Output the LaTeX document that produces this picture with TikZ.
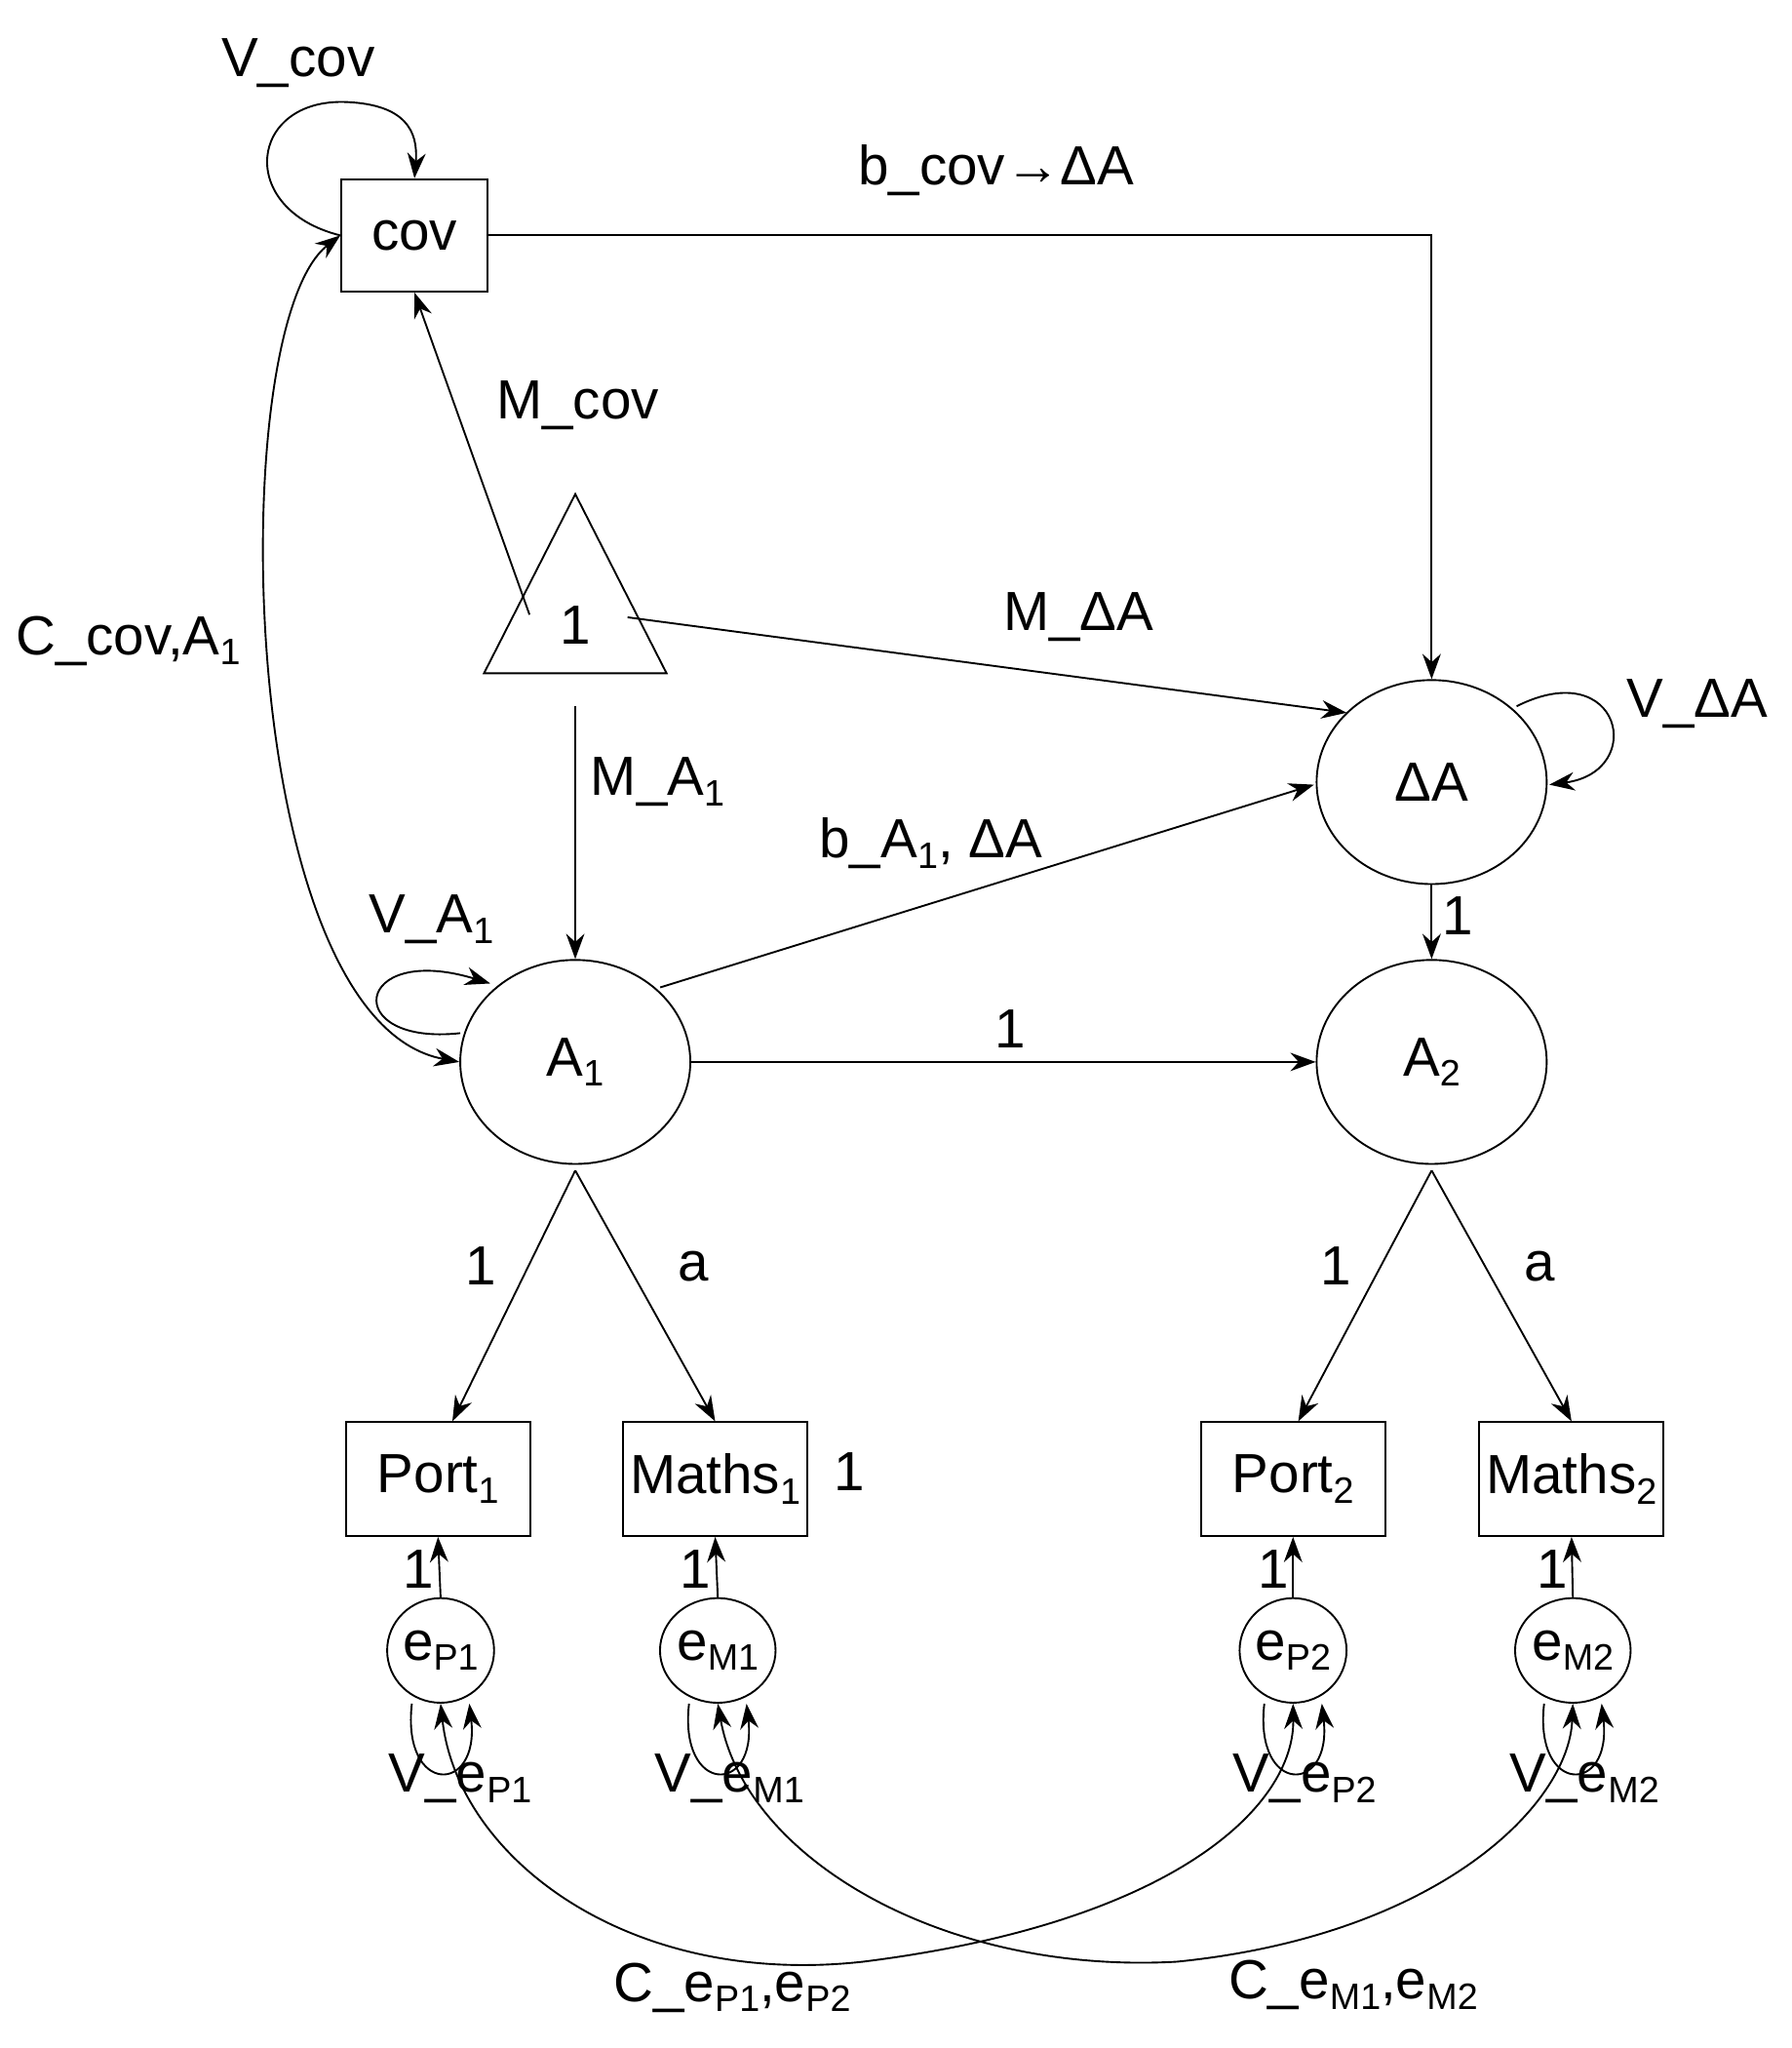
\documentclass[tikz,border=0pt]{standalone}
\usepackage{fontspec}
\setmainfont{Liberation Sans}
\usetikzlibrary{shapes.geometric,arrows.meta}
\newcommand{\sbx}[1]{\raisebox{-0.35ex}{\fontsize{16}{18}\selectfont #1}}
\begin{document}
\begin{tikzpicture}[x=0.02cm,y=-0.02cm,
  every node/.style={font=\fontsize{24}{28}\selectfont},
  box/.style={draw,thick,minimum width=2.82cm,minimum height=1.74cm,inner sep=0pt},
  lat/.style={draw,thick,ellipse,minimum width=3.52cm,minimum height=3.12cm,inner sep=0pt},
  err/.style={draw,thick,ellipse,minimum width=1.48cm,minimum height=1.6cm,inner sep=0pt},
  lab/.style={inner sep=1pt},
  arr/.style={thick,-{Stealth[length=11pt,width=8pt]}},
  darr/.style={thick,{Stealth[length=11pt,width=8pt]}-{Stealth[length=11pt,width=8pt]}}]
\useasboundingbox (0,0) rectangle (1370,1566);
\node[box,minimum width=2.24cm,minimum height=1.72cm] (cov) at (317,180) {cov};
\node[draw,thick,isosceles triangle,shape border rotate=90,isosceles triangle apex angle=54,minimum height=2.74cm,inner sep=0pt] (tri) at (440,472) {};
\node at (440,478) {1};
\node[lat] (dA) at (1095,598) {ΔA};
\node[lat] (A1) at (440,812) {A\sbx{1}};
\node[lat] (A2) at (1095,812) {A\sbx{2}};
\node[box] (P1) at (335,1131) {Port\sbx{1}};
\node[box] (M1) at (547,1131) {Maths\sbx{1}};
\node[box] (P2) at (989,1131) {Port\sbx{2}};
\node[box] (M2) at (1202,1131) {Maths\sbx{2}};
\node[err] (eP1) at (337,1262) {e\sbx{P1}};
\node[err] (eM1) at (549,1262) {e\sbx{M1}};
\node[err] (eP2) at (989,1262) {e\sbx{P2}};
\node[err] (eM2) at (1203,1262) {e\sbx{M2}};
% paths
\draw[arr] (cov.west) .. controls (180,160) and (190,75) .. (265,78) .. controls (310,80) and (320,100) .. (cov.north);
\node[lab] at (228,48) {V\_cov};
\draw[arr] (405,470) -- (cov.south);
\node[lab] at (442,310) {M\_cov};
\draw[arr] (480,472) -- (1030,545);
\node[lab] at (825,472) {M\_ΔA};
\draw[arr] (440,540) -- (A1.north);
\node[lab] at (503,598) {M\_A\sbx{1}};
\draw[arr] (cov.east) -- (1095,180) -- (dA.north);
\node[lab] at (762,130) {b\_cov→ΔA};
\draw[arr] (1160,540) .. controls (1240,500) and (1260,590) .. (1185,600);
\node[lab] at (1298,538) {V\_ΔA};
\draw[arr] (505,755) -- (1005,600);
\node[lab] at (712,645) {b\_A\sbx{1}, ΔA};
\draw[arr] (dA.south) -- (A2.north);
\node[lab] at (1115,700) {1};
\draw[arr] (A1.east) -- (A2.west);
\node[lab] at (773,787) {1};
\draw[arr] (352,790) .. controls (260,800) and (270,720) .. (375,752);
\node[lab] at (330,703) {V\_A\sbx{1}};
\draw[darr] (cov.west) .. controls (170,250) and (180,780) .. (A1.west);
\node[lab] at (98,490) {C\_cov,A\sbx{1}};
\draw[arr] (440,895) -- (P1.north-|346,0);
\draw[arr] (440,895) -- (M1.north);
\node[lab] at (368,968) {1};
\node[lab] at (530,968) {a};
\draw[arr] (1095,895) -- (P2.north-|993,0);
\draw[arr] (1095,895) -- (M2.north);
\node[lab] at (1022,968) {1};
\node[lab] at (1178,968) {a};
\node[lab] at (650,1125) {1};
\foreach \e/\b in {eP1/P1,eM1/M1,eP2/P2,eM2/M2}{
  \draw[arr] (\e.north) -- (\b.south);
  \node[lab,anchor=east] at ([xshift=-0.02cm,yshift=-0.5cm]\b.south) {1};
  \draw[arr] ([xshift=-0.44cm]\e.south) .. controls ([xshift=-0.6cm,yshift=-1.4cm]\e.south) and ([xshift=0.6cm,yshift=-1.4cm]\e.south) .. ([xshift=0.44cm]\e.south);
}
\node[lab] at (352,1360) {V\_e\sbx{P1}};
\node[lab] at (558,1360) {V\_e\sbx{M1}};
\node[lab] at (998,1360) {V\_e\sbx{P2}};
\node[lab] at (1212,1360) {V\_e\sbx{M2}};
\draw[darr] (eP1.south) .. controls (350,1420) and (480,1520) .. (660,1500) .. controls (900,1470) and (990,1380) .. (eP2.south);
\node[lab] at (560,1520) {C\_e\sbx{P1},e\sbx{P2}};
\draw[darr] (eM1.south) .. controls (570,1420) and (720,1510) .. (900,1500) .. controls (1100,1480) and (1200,1380) .. (eM2.south);
\node[lab] at (1035,1518) {C\_e\sbx{M1},e\sbx{M2}};
\end{tikzpicture}
\end{document}
